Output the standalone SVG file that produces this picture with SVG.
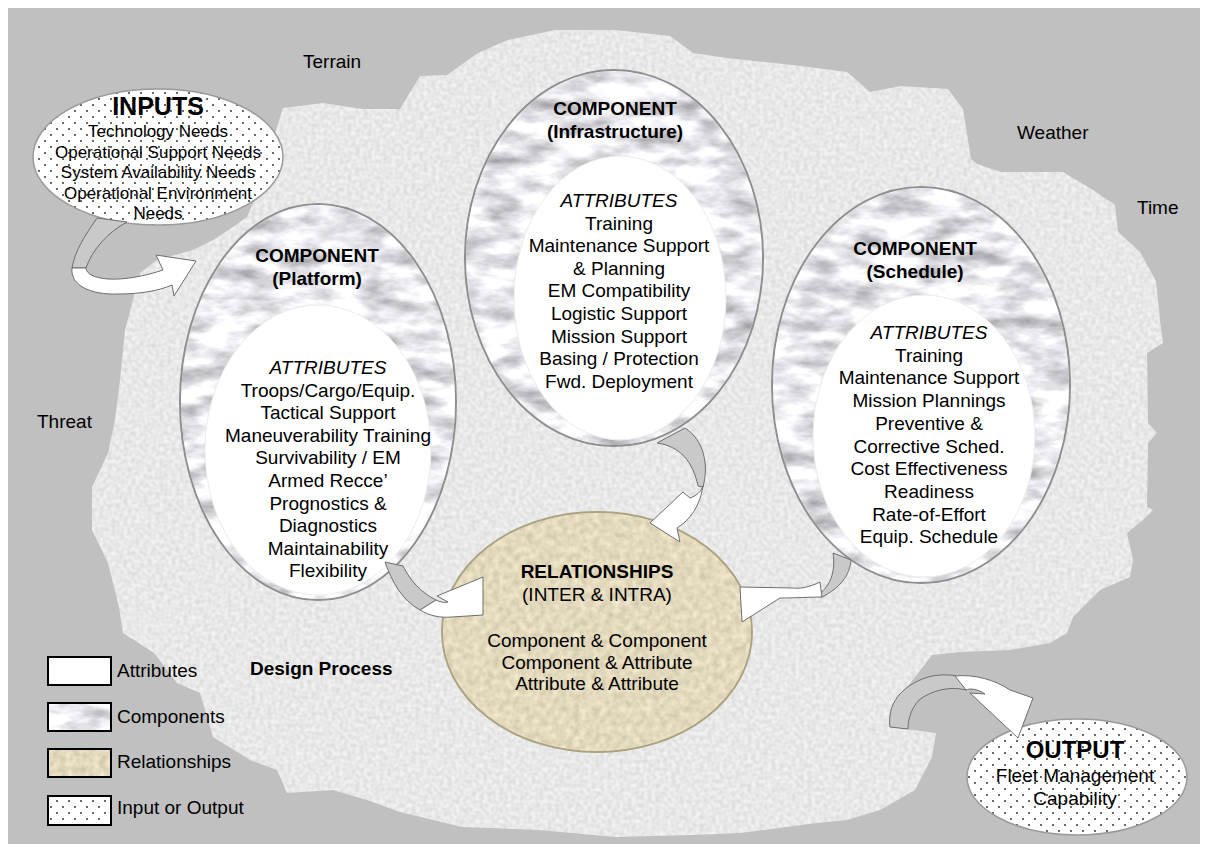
<svg xmlns="http://www.w3.org/2000/svg" width="1208" height="852" viewBox="0 0 1208 852">
<defs>
<style>
.t{font-family:"Liberation Sans",Arial,Helvetica,sans-serif;fill:#000;text-anchor:middle;font-size:19px}
.l{font-family:"Liberation Sans",Arial,Helvetica,sans-serif;fill:#000;font-size:19px}
.b{font-weight:bold}
.i{font-style:italic}
.io{font-family:"Liberation Sans",Arial,Helvetica,sans-serif;fill:#000;text-anchor:middle;font-size:17px}
.outer{stroke:#8e8e8e;stroke-width:2}
.inner{fill:#fff;stroke:#ececec;stroke-width:1}
.back{fill:#c9c9c9;stroke:#6e6e6e;stroke-width:1;stroke-linejoin:round}
.front{fill:#fff;stroke:#6e6e6e;stroke-width:1;stroke-linejoin:round}
.sw{stroke:#000;stroke-width:2}
</style>
<pattern id="dots" width="12" height="12" patternUnits="userSpaceOnUse">
<rect width="12" height="12" fill="#fff"/>
<circle cx="3" cy="3" r="0.9" fill="#222"/>
<circle cx="9" cy="9" r="0.9" fill="#222"/>
</pattern>
<filter id="marble" x="0" y="0" width="1" height="1" color-interpolation-filters="sRGB">
<feTurbulence type="fractalNoise" baseFrequency="0.025 0.06" numOctaves="4" seed="7"/>
<feColorMatrix type="matrix" values="0.7 0 0 0 0.56  0.7 0 0 0 0.56  0.7 0 0 0 0.58  0 0 0 0 1"/>
<feComposite in2="SourceGraphic" operator="in"/>
</filter>
<filter id="speckle" x="0" y="0" width="1" height="1" color-interpolation-filters="sRGB">
<feTurbulence type="fractalNoise" baseFrequency="0.25" numOctaves="1" seed="3"/>
<feColorMatrix type="matrix" values="0.16 0 0 0 0.83  0.16 0 0 0 0.83  0.16 0 0 0 0.83  0 0 0 0 1"/>
<feComposite in2="SourceGraphic" operator="in"/>
</filter>
<filter id="burlap" x="0" y="0" width="1" height="1" color-interpolation-filters="sRGB">
<feTurbulence type="fractalNoise" baseFrequency="0.15 0.15" numOctaves="2" seed="9"/>
<feColorMatrix type="matrix" values="0.2 0 0 0 0.79  0.2 0 0 0 0.75  0.2 0 0 0 0.64  0 0 0 0 1"/>
<feComposite in2="SourceGraphic" operator="in"/>
</filter>
</defs>

<g id="background">
<rect x="0" y="0" width="1208" height="852" fill="#fff"/>
<rect x="8" y="8" width="1192" height="836" fill="#c0c0c0"/>
<path id="design-space" filter="url(#speckle)" fill="#e6e6e6" d="M283,108 L323,103 L362,109 L400,109 L420,76 L447,75 L478,53 L508,40 L555,30 L616,30 L670,36 L693,53 L727,58 L793,65 L847,72 L870,92 L901,86 L948,89 L963,109 L971,159 L977,164 L1001,172 L1063,172 L1093,190 L1115,205 L1118,232 L1140,252 L1156,281 L1160,320 L1163,343 L1147,353 L1148,423 L1157,433 L1148,443 L1147,507 L1153,510 L1143,520 L1127,533 L1133,560 L1130,577 L1100,590 L1073,617 L1067,633 L1050,643 L1010,650 L960,652 L932,655 L905,690 L890,727 L936,733 L932,757 L915,790 L880,810 L847,820 L817,823 L740,833 L693,835 L616,837 L539,830 L462,827 L400,812 L367,800 L333,790 L287,793 L277,770 L250,760 L213,737 L200,693 L177,683 L154,653 L123,633 L119,607 L108,563 L92,530 L92,487 L108,453 L115,420 L120,380 L125,330 L133,300 L140,273 L157,260 L193,250 L213,240 L233,227 L247,217 L260,187 L277,127 Z"/>
</g>

<g id="env-labels">
<text class="l" x="303" y="68">Terrain</text>
<text class="l" x="1017" y="139">Weather</text>
<text class="l" x="1137" y="214">Time</text>
<text class="l" x="37" y="428">Threat</text>
<text class="l b" x="250" y="675">Design Process</text>
</g>

<g id="node-inputs">
<ellipse cx="158" cy="157" rx="125" ry="68" fill="url(#dots)" stroke="#9a9a9a" stroke-width="1.5"/>
<text class="t b" x="158" y="115" style="font-size:25px">INPUTS</text>
<text class="io" x="158" y="137">Technology Needs</text>
<text class="io" x="158" y="157.5">Operational Support Needs</text>
<text class="io" x="158" y="178">System Availability Needs</text>
<text class="io" x="158" y="199">Operational Environment</text>
<text class="io" x="158" y="219">Needs</text>
</g>

<g id="node-platform">
<ellipse class="outer" cx="318" cy="402" rx="138" ry="198" fill="#dcdcde"/>
<ellipse cx="318" cy="402" rx="137" ry="197" fill="#dcdcde" filter="url(#marble)"/>
<ellipse class="inner" cx="318" cy="450" rx="113" ry="145"/>
<text class="t b" x="317" y="262">COMPONENT</text>
<text class="t b" x="317" y="285">(Platform)</text>
<text class="t i" x="328" y="374">ATTRIBUTES</text>
<text class="t" x="328" y="396.6">Troops/Cargo/Equip.</text>
<text class="t" x="328" y="419">Tactical Support</text>
<text class="t" x="328" y="441.8">Maneuverability Training</text>
<text class="t" x="328" y="464.4">Survivability / EM</text>
<text class="t" x="328" y="487">Armed Recce’</text>
<text class="t" x="328" y="509.6">Prognostics &amp;</text>
<text class="t" x="328" y="532.2">Diagnostics</text>
<text class="t" x="328" y="554.8">Maintainability</text>
<text class="t" x="328" y="577.4">Flexibility</text>
</g>

<g id="node-infrastructure">
<ellipse class="outer" cx="614" cy="258" rx="149" ry="188" fill="#dcdcde"/>
<ellipse cx="614" cy="258" rx="148" ry="187" fill="#dcdcde" filter="url(#marble)"/>
<ellipse class="inner" cx="620" cy="298" rx="106" ry="142"/>
<text class="t b" x="615" y="115">COMPONENT</text>
<text class="t b" x="615" y="138">(Infrastructure)</text>
<text class="t i" x="619" y="207">ATTRIBUTES</text>
<text class="t" x="619" y="229.6">Training</text>
<text class="t" x="619" y="252.2">Maintenance Support</text>
<text class="t" x="619" y="274.8">&amp; Planning</text>
<text class="t" x="619" y="297.4">EM Compatibility</text>
<text class="t" x="619" y="320">Logistic Support</text>
<text class="t" x="619" y="342.6">Mission Support</text>
<text class="t" x="619" y="365.2">Basing / Protection</text>
<text class="t" x="619" y="387.8">Fwd. Deployment</text>
</g>

<g id="node-schedule">
<ellipse class="outer" cx="921" cy="385" rx="149" ry="198" fill="#dcdcde"/>
<ellipse cx="921" cy="385" rx="148" ry="197" fill="#dcdcde" filter="url(#marble)"/>
<ellipse class="inner" cx="924" cy="436" rx="111" ry="141"/>
<text class="t b" x="915" y="255">COMPONENT</text>
<text class="t b" x="915" y="278">(Schedule)</text>
<text class="t i" x="929" y="339">ATTRIBUTES</text>
<text class="t" x="929" y="361.7">Training</text>
<text class="t" x="929" y="384.4">Maintenance Support</text>
<text class="t" x="929" y="407.1">Mission Plannings</text>
<text class="t" x="929" y="429.8">Preventive &amp;</text>
<text class="t" x="929" y="452.5">Corrective Sched.</text>
<text class="t" x="929" y="475.2">Cost Effectiveness</text>
<text class="t" x="929" y="497.9">Readiness</text>
<text class="t" x="929" y="520.6">Rate-of-Effort</text>
<text class="t" x="929" y="543.3">Equip. Schedule</text>
</g>

<g id="node-relationships">
<ellipse cx="597" cy="632" rx="155" ry="120" fill="#dcd1b4" stroke="#a9a37f" stroke-width="2"/>
<ellipse cx="597" cy="632" rx="154" ry="119" fill="#dcd1b4" filter="url(#burlap)"/>
<text class="t b" x="597" y="578">RELATIONSHIPS</text>
<text class="t" x="597" y="601">(INTER &amp; INTRA)</text>
<text class="t" x="597" y="647">Component &amp; Component</text>
<text class="t" x="597" y="668.5">Component &amp; Attribute</text>
<text class="t" x="597" y="690">Attribute &amp; Attribute</text>
</g>

<g id="node-output">
<ellipse cx="1077" cy="777" rx="110" ry="58" fill="url(#dots)" stroke="#9a9a9a" stroke-width="1.5"/>
<text class="t b" x="1075" y="758" style="font-size:24px">OUTPUT</text>
<text class="t" x="1075" y="782">Fleet Management</text>
<text class="t" x="1075" y="805">Capability</text>
</g>

<g id="connectors">
<!-- inputs to platform -->
<path class="back" d="M97,218 C86,234 75,250 72,268 L86,268 C92,250 108,232 127,222 Z"/>
<path class="front" d="M72,268 C70,285 90,295 118,294 C140,294 158,291 172,285 L174,296 L196,261 L156,255 L163,270 C145,276 125,280 108,279 C95,278 86,274 86,268 Z"/>
<!-- platform to relationships -->
<path class="back" d="M385,562 C392,582 402,600 420,610 L436,600 C420,592 410,580 403,566 Z"/>
<path class="front" d="M420,610 C430,616 440,618 452,617 L483,615 L483,577 L437,596 L448,602 C444,603 440,602 436,600 Z"/>
<!-- infrastructure to relationships -->
<path class="back" d="M657,443 C680,446 693,462 698,486 L703,487 C709,465 704,440 685,428 Z"/>
<path class="front" d="M703,486 C701,492 696,496 690,498 L683,492 L650,523 L680,542 L677,528 C690,520 700,506 703,486 Z"/>
<!-- schedule to relationships -->
<path class="back" d="M833,553 C836,572 830,588 816,596 L822,597 C840,588 850,575 851,560 Z"/>
<path class="front" d="M820,582 C810,587 800,589 793,588 L740,587 L742,622 L780,598 C797,598 810,597 822,597 Z"/>
<!-- design process to output -->
<path class="back" d="M890,727 C887,705 900,686 928,677 C944,673 958,675 970,680 L966,690 C950,686 932,690 919,700 C911,709 908,719 908,729 Z"/>
<path class="front" d="M955,676 C975,674 995,680 1010,690 L1033,698 L1018,738 L970,693 L985,694 C978,689 970,688 966,690 Z"/>
</g>

<g id="legend">
<rect class="sw" x="48" y="657" width="63" height="28" fill="#fff"/>
<text class="l" x="117" y="677">Attributes</text>
<rect class="sw" x="48" y="703" width="63" height="28" fill="#dcdcde"/>
<rect x="49" y="704" width="61" height="26" fill="#dcdcde" filter="url(#marble)"/>
<text class="l" x="117" y="723">Components</text>
<rect class="sw" x="48" y="749" width="63" height="28" fill="#dcd1b4"/>
<rect x="49" y="750" width="61" height="26" fill="#dcd1b4" filter="url(#burlap)"/>
<text class="l" x="117" y="768">Relationships</text>
<rect class="sw" x="48" y="796" width="63" height="29" fill="url(#dots)"/>
<text class="l" x="117" y="814">Input or Output</text>
</g>
</svg>
